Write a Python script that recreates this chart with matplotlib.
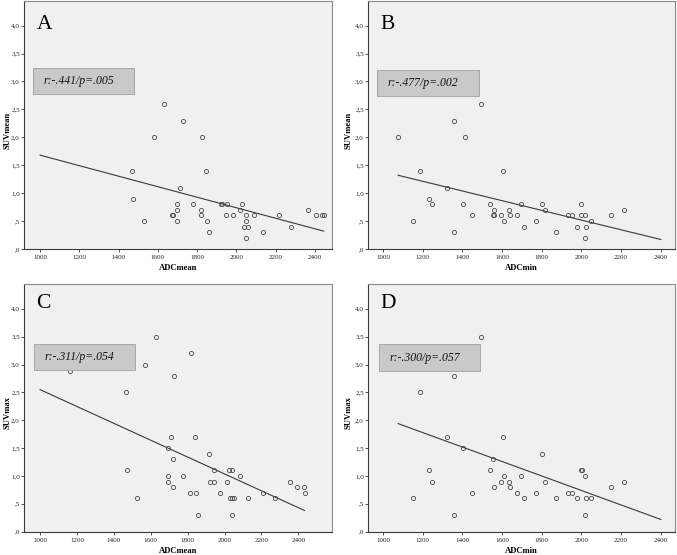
"""
plot.py
-------
Four SPSS-style scatter panels: SUVmean / SUVmax against ADCmean / ADCmin,
each with its linear fit line and a grey box holding r and p.

Writes out.png (677 x 555 px).
"""

import matplotlib
matplotlib.use("Agg")
import matplotlib.pyplot as plt
from matplotlib.patches import Rectangle

plt.rcParams["font.family"] = ["Liberation Serif", "DejaVu Serif"]

# ---------------------------------------------------------------- data
# Panel A: ADCmean vs SUVmean
adc_mean_a = [1633, 1730, 1579, 1825, 1845, 1468, 1713, 1475, 1531, 1699,
              1696, 1696, 1672, 1679, 1780, 1821, 1820, 1852, 1862, 1920,
              1927, 1950, 1947, 1984, 2018, 2030, 2049, 2037, 2049, 2057,
              2047, 2089, 2137, 2218, 2279, 2364, 2403, 2437, 2444]
suv_mean_a = [2.6, 2.3, 2.0, 2.0, 1.4, 1.4, 1.1, 0.9, 0.5, 0.8,
              0.7, 0.5, 0.6, 0.6, 0.8, 0.7, 0.6, 0.5, 0.3, 0.8,
              0.8, 0.8, 0.6, 0.6, 0.7, 0.8, 0.6, 0.4, 0.5, 0.4,
              0.2, 0.6, 0.3, 0.6, 0.4, 0.7, 0.6, 0.6, 0.6]

# Panel B: ADCmin vs SUVmean
adc_min_b = [1076, 1153, 1185, 1234, 1245, 1323, 1355, 1358, 1402, 1415,
             1449, 1494, 1539, 1553, 1561, 1561, 1592, 1603, 1612, 1634,
             1639, 1677, 1697, 1711, 1771, 1802, 1817, 1872, 1933, 1951,
             1976, 2000, 1998, 2020, 2025, 2020, 2047, 2150, 2215]
suv_mean_b = [2.0, 0.5, 1.4, 0.9, 0.8, 1.1, 2.3, 0.3, 0.8, 2.0,
              0.6, 2.6, 0.8, 0.6, 0.7, 0.6, 0.6, 1.4, 0.5, 0.7,
              0.6, 0.6, 0.8, 0.4, 0.5, 0.8, 0.7, 0.3, 0.6, 0.6,
              0.4, 0.8, 0.6, 0.6, 0.4, 0.2, 0.5, 0.6, 0.7]

# Panel C: ADCmean vs SUVmax (last point sits under the r/p box)
adc_mean_c = [1630, 1818, 1571, 1724, 1464, 1708, 1838, 1695, 1914, 1719,
              1471, 1945, 2022, 2042, 1695, 1775, 2082, 1692, 1921, 1941,
              2013, 2355, 1719, 2395, 2431, 1815, 1847, 1975, 2210, 2434,
              1527, 2030, 2042, 2053, 2129, 2272, 1856, 2040, 1165]
suv_max_c = [3.5, 3.2, 3.0, 2.8, 2.5, 1.7, 1.7, 1.5, 1.4, 1.3,
             1.1, 1.1, 1.1, 1.1, 1.0, 1.0, 1.0, 0.9, 0.9, 0.9,
             0.9, 0.9, 0.8, 0.8, 0.8, 0.7, 0.7, 0.7, 0.7, 0.7,
             0.6, 0.6, 0.6, 0.6, 0.6, 0.6, 0.3, 0.3, 2.88]

# Panel D: ADCmin vs SUVmax
adc_min_d = [1153, 1185, 1234, 1245, 1323, 1355, 1358, 1402, 1449, 1494,
             1539, 1553, 1561, 1592, 1612, 1603, 1634, 1639, 1677, 1697,
             1711, 1771, 1802, 1817, 1872, 1933, 1951, 1976, 1998, 2001,
             2020, 2025, 2020, 2047, 2150, 2215]
suv_max_d = [0.6, 2.5, 1.1, 0.9, 1.7, 2.8, 0.3, 1.5, 0.7, 3.5,
             1.1, 1.3, 0.8, 0.9, 1.0, 1.7, 0.9, 0.8, 0.7, 1.0,
             0.6, 0.7, 1.4, 0.9, 0.6, 0.7, 0.7, 0.6, 1.1, 1.1,
             1.0, 0.6, 0.3, 0.6, 0.8, 0.9]

# fit lines (end points)
fit_a_x, fit_a_y = [1000, 2444], [1.68, 0.32]
fit_b_x, fit_b_y = [1076, 2400], [1.32, 0.17]
fit_c_x, fit_c_y = [1000, 2434], [2.55, 0.38]
fit_d_x, fit_d_y = [1076, 2400], [1.94, 0.22]

stats_labels = ["r:-.441/p=.005", "r:-.477/p=.002", "r:-.311/p=.054", "r:-.300/p=.057"]
panel_letters = ["A", "B", "C", "D"]
x_titles = ["ADCmean", "ADCmin", "ADCmean", "ADCmin"]
y_titles = ["SUVmean", "SUVmean", "SUVmax", "SUVmax"]

x_ticks = [1000, 1200, 1400, 1600, 1800, 2000, 2200, 2400]
y_ticks = [0.0, 0.5, 1.0, 1.5, 2.0, 2.5, 3.0, 3.5, 4.0]
y_tick_labels = [",0", ",5", "1,0", "1,5", "2,0", "2,5", "3,0", "3,5", "4,0"]

# ---------------------------------------------------------------- layout
W, H = 677, 555
# (left, bottom, width, height) in figure fractions, measured in pixels
AX_RECTS = [
    (24 / W, 1 - 249 / H, 307.7 / W, 248 / H),
    (368 / W, 1 - 249 / H, 306.7 / W, 248 / H),
    (24 / W, 1 - 531.7 / H, 307.7 / W, 247.4 / H),
    (368 / W, 1 - 531.7 / H, 306.7 / W, 247.4 / H),
]
X_LIMS = [(918, 2485), (924, 2470), (913, 2581), (924, 2470)]
# stats box: x0, x1, y0, y1 in axes fractions
BOXES = [
    (0.030, 0.358, 0.624, 0.729),
    (0.030, 0.361, 0.618, 0.722),
    (0.034, 0.361, 0.654, 0.757),
    (0.036, 0.366, 0.651, 0.757),
]
LETTER_Y = [0.887, 0.887, 0.903, 0.903]
YLABEL_X = [-0.040, -0.050, -0.040, -0.050]

BG = "#f0f0f0"
INK = "#3a3a3a"


def draw_panel(ax, x, y, fx, fy, idx):
    """Scatter + fit line + decorations for one panel."""
    ax.set_facecolor(BG)
    ax.plot(x, y, linestyle="none", marker="o", markersize=3.0,
            markerfacecolor="none", markeredgecolor="#4a4a4a",
            markeredgewidth=0.6, zorder=3)
    ax.plot(fx, fy, color=INK, linewidth=0.8, zorder=2)

    ax.set_xlim(*X_LIMS[idx])
    ax.set_ylim(0, 4.44)
    ax.set_xticks(x_ticks)
    ax.set_xticklabels([str(t) for t in x_ticks])
    ax.set_yticks(y_ticks)
    ax.set_yticklabels(y_tick_labels)
    ax.tick_params(axis="both", direction="out", length=2, width=0.6,
                   color=INK, labelsize=5, labelcolor="#222222")
    ax.tick_params(axis="x", pad=2.5)
    ax.tick_params(axis="y", pad=1)

    for side in ("top", "right"):
        ax.spines[side].set_color("#8a8a8a")
        ax.spines[side].set_linewidth(0.8)
    for side in ("left", "bottom"):
        ax.spines[side].set_color(INK)
        ax.spines[side].set_linewidth(0.8)

    ax.set_xlabel(x_titles[idx], fontsize=6.2, fontweight="bold")
    ax.set_ylabel(y_titles[idx], fontsize=6.2, fontweight="bold")
    ax.xaxis.set_label_coords(0.5, -0.062)
    ax.yaxis.set_label_coords(YLABEL_X[idx], 0.48)

    # panel letter
    ax.text(0.040, LETTER_Y[idx], panel_letters[idx], transform=ax.transAxes,
            fontsize=15.5, ha="left", va="baseline", color="black", zorder=5)

    # grey r/p box, drawn over the points
    x0, x1, y0, y1 = BOXES[idx]
    ax.add_patch(Rectangle((x0, y0), x1 - x0, y1 - y0, transform=ax.transAxes,
                           facecolor="#c9c9c9", edgecolor="#a8a8a8",
                           linewidth=0.7, zorder=4))
    ax.text(x0 + 0.033, (y0 + y1) / 2, stats_labels[idx], transform=ax.transAxes,
            fontsize=8.5, style="italic", ha="left", va="center",
            color="#111111", zorder=5)


def main():
    fig = plt.figure(figsize=(W / 100, H / 100), dpi=100)
    fig.patch.set_facecolor("white")

    panels = [
        (adc_mean_a, suv_mean_a, fit_a_x, fit_a_y),
        (adc_min_b, suv_mean_b, fit_b_x, fit_b_y),
        (adc_mean_c, suv_max_c, fit_c_x, fit_c_y),
        (adc_min_d, suv_max_d, fit_d_x, fit_d_y),
    ]
    for idx, (x, y, fx, fy) in enumerate(panels):
        ax = fig.add_axes(AX_RECTS[idx])
        draw_panel(ax, x, y, fx, fy, idx)

    fig.savefig("out.png", dpi=100)
    plt.close(fig)


if __name__ == "__main__":
    main()
